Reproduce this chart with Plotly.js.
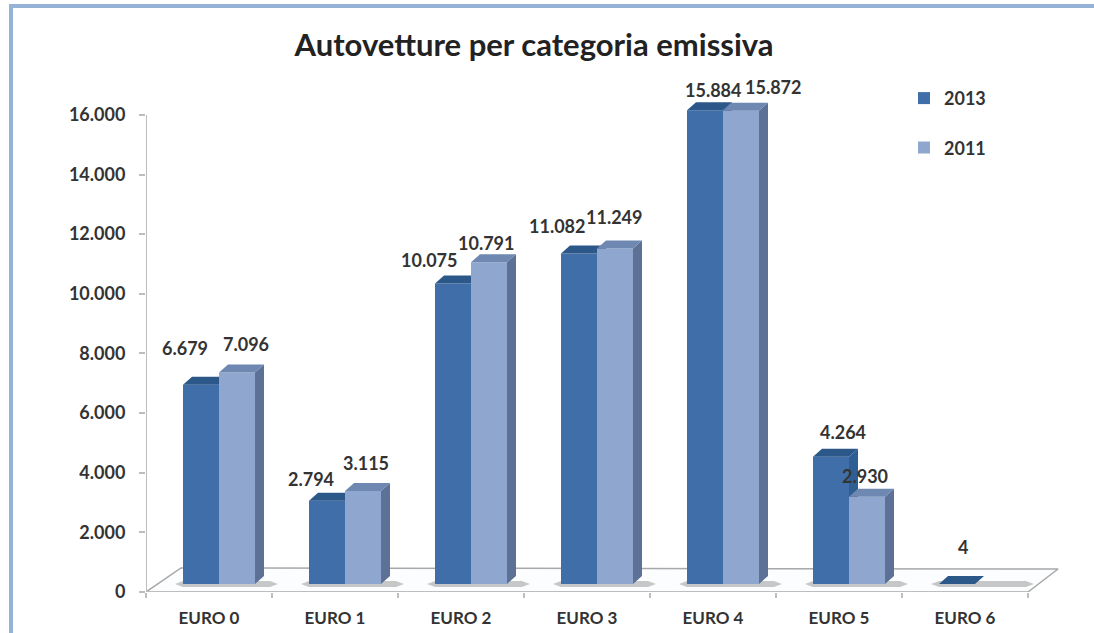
<!DOCTYPE html>
<html><head><meta charset="utf-8">
<script src="https://cdn.plot.ly/plotly-3.0.1.min.js"></script>
<style>
html,body{margin:0;padding:0;background:#fff;overflow:hidden}
#frame{position:absolute;left:9px;top:4px;width:1085px;height:629px;border-left:4px solid #95b3d7;border-top:4px solid #95b3d7;box-sizing:border-box}
#chart{position:absolute;left:0;top:0;width:1094px;height:633px}
</style></head><body>
<div id="chart"></div><div id="frame"></div>
<script>
const categories = ["EURO 0","EURO 1","EURO 2","EURO 3","EURO 4","EURO 5","EURO 6"];
const values2013 = [6679,2794,10075,11082,15884,4264,4];
const values2011 = [7096,3115,10791,11249,15872,2930,null];
const seriesNames = ["2013","2011"];
const chartTitle = "Autovetture per categoria emissiva";

// pseudo-3D geometry in axis units
const yMax = 16000, yTop = 16500, pxPerUnit = 477/yMax, pxPerCat = 126;
const px = p => p/pxPerUnit, cx = p => p/pxPerCat;
const baseU = px(8), depthY = px(8), depthX = cx(9), barW = cx(36), groupShift = cx(10);
const font = "Lato, 'Open Sans', sans-serif", ink = "#333333", axisGrey = "#bdbdbd";
const plotBottom = 592, plotLeft = 146, xEnd = categories.length, xTop = xEnd + cx(34);

function faces(vals, offset){
  const side={x:[],y:[]}, top={x:[],y:[]};
  vals.forEach((v,i)=>{
    if(v===null) return;
    const x0=i+0.5+groupShift+offset, x1=x0+barW, t=baseU+v;
    side.x.push(x1,x1,x1+depthX,x1+depthX,x1,null);
    side.y.push(baseU,t,t+depthY,baseU+depthY,baseU,null);
    top.x.push(x0,x1,x1+depthX,x0+depthX,x0,null);
    top.y.push(t,t,t+depthY,t+depthY,t,null);
  });
  return {side,top};
}
function poly(p,color,ya){
  return {type:"scatter",mode:"lines",x:p.x,y:p.y,yaxis:ya,fill:"toself",fillcolor:color,
    line:{width:0,color:color},cliponaxis:false,showlegend:false,hoverinfo:"skip"};
}
function bars(vals,offset,color,name,ya){
  return {type:"bar",name:name,x:vals.map((_,i)=>i+0.5+groupShift+offset+barW/2),y:vals,base:baseU,width:barW,yaxis:ya,
    marker:{color:color,line:{width:0}},cliponaxis:false,legendgroup:name,hoverinfo:"skip"};
}
const f13=faces(values2013,-barW), f11=faces(values2011,0);

// floor and bar shadows
const floor={x:[0,cx(35),xEnd+cx(30),xEnd,0],y:[0,px(24),px(23),0,0]};
const shadow={x:[],y:[]};
categories.forEach((_,i)=>{
  const l=i+0.5+groupShift-barW-cx(8), r=i+0.5+groupShift+barW+depthX+cx(14);
  shadow.x.push(l,l+cx(8),r-cx(8),r,r-cx(8),l+cx(8),l,null);
  shadow.y.push(px(8),px(11),px(11),px(8),px(5),px(5),px(8),null);
});

const traces=[
  {type:"scatter",mode:"lines",x:floor.x,y:floor.y,fill:"toself",fillcolor:"#fbfdfe",
   line:{color:"#a8a8a8",width:1.5},cliponaxis:false,showlegend:false,hoverinfo:"skip"},
  poly(shadow,"rgba(120,120,120,0.4)","y"),
  bars(values2013,-barW,"#3f6ea8",seriesNames[0],"y2"),
  poly(f13.side,"#2f5f92","y2"),
  poly(f13.top,"#2c5789","y2"),
  bars(values2011,0,"#8fa6cf",seriesNames[1],"y3"),
  poly(f11.side,"#5d7196","y3"),
  poly(f11.top,"#6f88b1","y3")
];

// label offsets in px from the top of each front face
const offs13=[[-16,37],[-16,22],[-24,24],[-22,28],[8,20],[12,25],[6,37]];
const offs11=[[9,28],[3,28],[-3,19],[-1,32],[32,24],[-2,21],null];
const fmt=v=>String(v).replace(/\B(?=(\d{3})+$)/g,".");
const annotations=[];
function addLabels(vals,offset,offs){
  vals.forEach((v,i)=>{
    if(v===null) return;
    annotations.push({x:i+0.5+groupShift+offset+barW/2,y:baseU+v,xref:"x",yref:"y",text:fmt(v),showarrow:false,
      xanchor:"center",yanchor:"middle",xshift:offs[i][0],yshift:offs[i][1],
      font:{family:font,size:18,weight:700,color:ink}});
  });
}
addLabels(values2013,-barW,offs13);
addLabels(values2011,0,offs11);

const hidden={overlaying:"y",range:[0,yTop],visible:false,fixedrange:true};
const plotWidth = xTop*pxPerCat, plotHeight = yTop*pxPerUnit;
const layout={
  width:1094,height:633,autosize:false,
  margin:{l:plotLeft,r:1094-plotLeft-plotWidth,t:633-41-plotHeight,b:41,pad:0},
  paper_bgcolor:"rgba(0,0,0,0)",plot_bgcolor:"rgba(0,0,0,0)",
  separators:",.",barmode:"overlay",hovermode:false,showlegend:true,
  title:{text:chartTitle,font:{family:font,size:31,weight:700,color:"#222222"},
    x:534/1094,xref:"container",xanchor:"center",y:1-45/633,yref:"container",yanchor:"middle"},
  xaxis:{range:[0,xTop],tickmode:"array",tickvals:categories.map((_,i)=>i+0.5),ticktext:categories,
    ticks:"",ticklabelstandoff:14,showgrid:false,zeroline:false,showline:false,
    tickfont:{family:font,size:17,weight:700,color:ink},
    minor:{tickmode:"array",tickvals:categories.map((_,i)=>i).concat(xEnd),ticks:"outside",ticklen:5,tickcolor:axisGrey,tickwidth:2,showgrid:false},
    fixedrange:true},
  yaxis:{range:[0,yTop],dtick:2000,tick0:0,tickformat:",d",ticks:"outside",ticklen:6,tickcolor:axisGrey,tickwidth:2,ticklabelstandoff:10,
    showgrid:false,zeroline:false,showline:false,
    tickfont:{family:font,size:18,weight:700,color:ink},fixedrange:true},
  yaxis2:hidden,yaxis3:hidden,
  shapes:[
    {type:"line",xref:"x",yref:"y",x0:0,x1:0,y0:0,y1:yMax,layer:"above",line:{color:axisGrey,width:2}},
    {type:"line",xref:"x",yref:"y",x0:0,x1:xEnd,y0:0,y1:0,layer:"above",line:{color:axisGrey,width:2}}
  ],
  legend:{x:(904-plotLeft)/plotWidth,y:(plotBottom-80)/plotHeight,xanchor:"left",yanchor:"top",
    traceorder:"grouped",tracegroupgap:23,itemwidth:30,bgcolor:"rgba(0,0,0,0)",
    font:{family:font,size:18,weight:700,color:ink}},
  annotations:annotations
};
Plotly.newPlot("chart",traces,layout,{displayModeBar:false,staticPlot:true});
</script>
</body></html>
